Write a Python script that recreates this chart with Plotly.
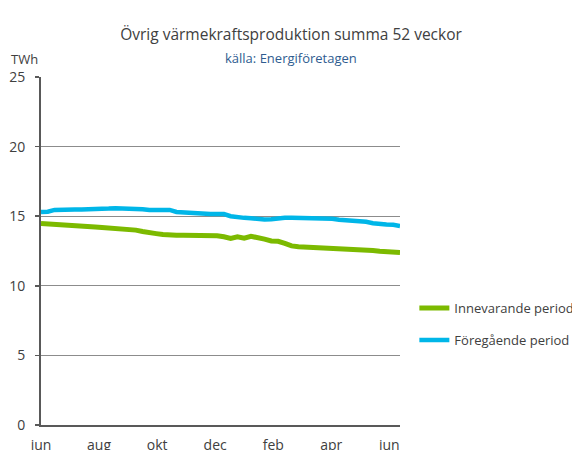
import plotly.graph_objects as go

# weekly values, 54 points, June -> June
innevarande = [14.47, 14.45, 14.38, 14.35, 14.35, 14.35, 14.35, 14.33, 14.22, 14.18,
               14.15, 14.12, 14.10, 14.02, 14.00, 13.90, 13.78, 13.75, 13.68, 13.63,
               13.63, 13.63, 13.63, 13.63, 13.63, 13.63, 13.60, 13.52, 13.40, 13.52,
               13.42, 13.56, 13.50, 13.35, 13.22, 13.20, 13.05, 12.87, 12.80, 12.78,
               12.72, 12.72, 12.72, 12.72, 12.72, 12.70, 12.65, 12.63, 12.60, 12.53,
               12.48, 12.47, 12.42, 12.39]
foregaende = [15.30, 15.32, 15.45, 15.48, 15.48, 15.48, 15.48, 15.48, 15.48, 15.48,
              15.55, 15.58, 15.58, 15.58, 15.58, 15.50, 15.45, 15.45, 15.45, 15.45,
              15.30, 15.27, 15.20, 15.15, 15.15, 15.15, 15.15, 15.15, 15.00, 14.90,
              14.88, 14.85, 14.78, 14.76, 14.78, 14.85, 14.88, 14.88, 14.88, 14.88,
              14.88, 14.88, 14.88, 14.82, 14.75, 14.72, 14.65, 14.62, 14.60, 14.50,
              14.42, 14.40, 14.38, 14.30]
month_labels = ["jun", "aug", "okt", "dec", "feb", "apr", "jun"]
series_names = ["Innevarande period", "Föregående period"]

weeks = list(range(len(innevarande)))
tickvals = [k * 60 / 7 for k in range(len(month_labels))]

FONT = "Open Sans"
TXT = "#404040"

# plot area in pixels
L, R, T, B = 41, 400, 77, 425
PW, PH = R - L, B - T

fig = go.Figure()
fig.add_trace(go.Scatter(x=weeks, y=innevarande, mode="lines", name=series_names[0],
                         legendgroup="a",
                         line=dict(color="#7cba00", width=5)))
fig.add_trace(go.Scatter(x=weeks, y=foregaende, mode="lines", name=series_names[1],
                         legendgroup="b",
                         line=dict(color="#00b6e8", width=4.5)))

fig.update_layout(
    width=572, height=450, autosize=False,
    margin=dict(l=L, r=572 - R, t=T, b=450 - B, autoexpand=False),
    paper_bgcolor="white", plot_bgcolor="white",
    font=dict(family=FONT, color=TXT, size=13),
    showlegend=True,
    legend=dict(x=1.04, y=0.379, xanchor="left", yanchor="top",
                font=dict(size=13, color=TXT, family=FONT),
                tracegroupgap=12, itemwidth=30, bgcolor="rgba(0,0,0,0)"),
    title=dict(text="Övrig värmekraftsproduktion summa 52 veckor",
               x=(291 - L) / PW, xref="paper", xanchor="center",
               y=1 - 35 / 450, yanchor="middle",
               font=dict(size=15.5, color=TXT, family=FONT)),
)

fig.add_annotation(text="källa: Energiföretagen", xref="paper", yref="paper",
                   x=(291 - L) / PW, y=1 + (T - 58) / PH, showarrow=False,
                   xanchor="center", yanchor="middle",
                   font=dict(size=13, color="#2f5c8f", family=FONT))
fig.add_annotation(text="TWh", xref="paper", yref="paper",
                   x=(24 - L) / PW, y=1 + (T - 59) / PH, showarrow=False,
                   xanchor="center", yanchor="middle",
                   font=dict(size=13, color=TXT, family=FONT))

fig.update_xaxes(range=[0, len(weeks) - 1], tickmode="array", tickvals=tickvals,
                 ticktext=month_labels, showgrid=False, zeroline=False,
                 showline=True, linecolor="#595959", linewidth=2, ticks="",
                 automargin=False, ticklabelstandoff=6,
                 tickfont=dict(size=14, color=TXT, family=FONT), fixedrange=True)
fig.update_yaxes(range=[0, 25], dtick=5, showgrid=True, gridcolor="#8c8c8c",
                 gridwidth=1, zeroline=False, showline=True, linecolor="#595959",
                 linewidth=2, ticks="outside", ticklen=4, tickcolor="#595959",
                 tickwidth=1.5, ticklabelstandoff=7, automargin=False,
                 tickfont=dict(size=14, color=TXT, family=FONT), fixedrange=True)

fig.write_html("out.html", config={"displayModeBar": False, "staticPlot": True},
               post_script="document.body.style.margin='0';document.body.style.overflow='hidden';")
